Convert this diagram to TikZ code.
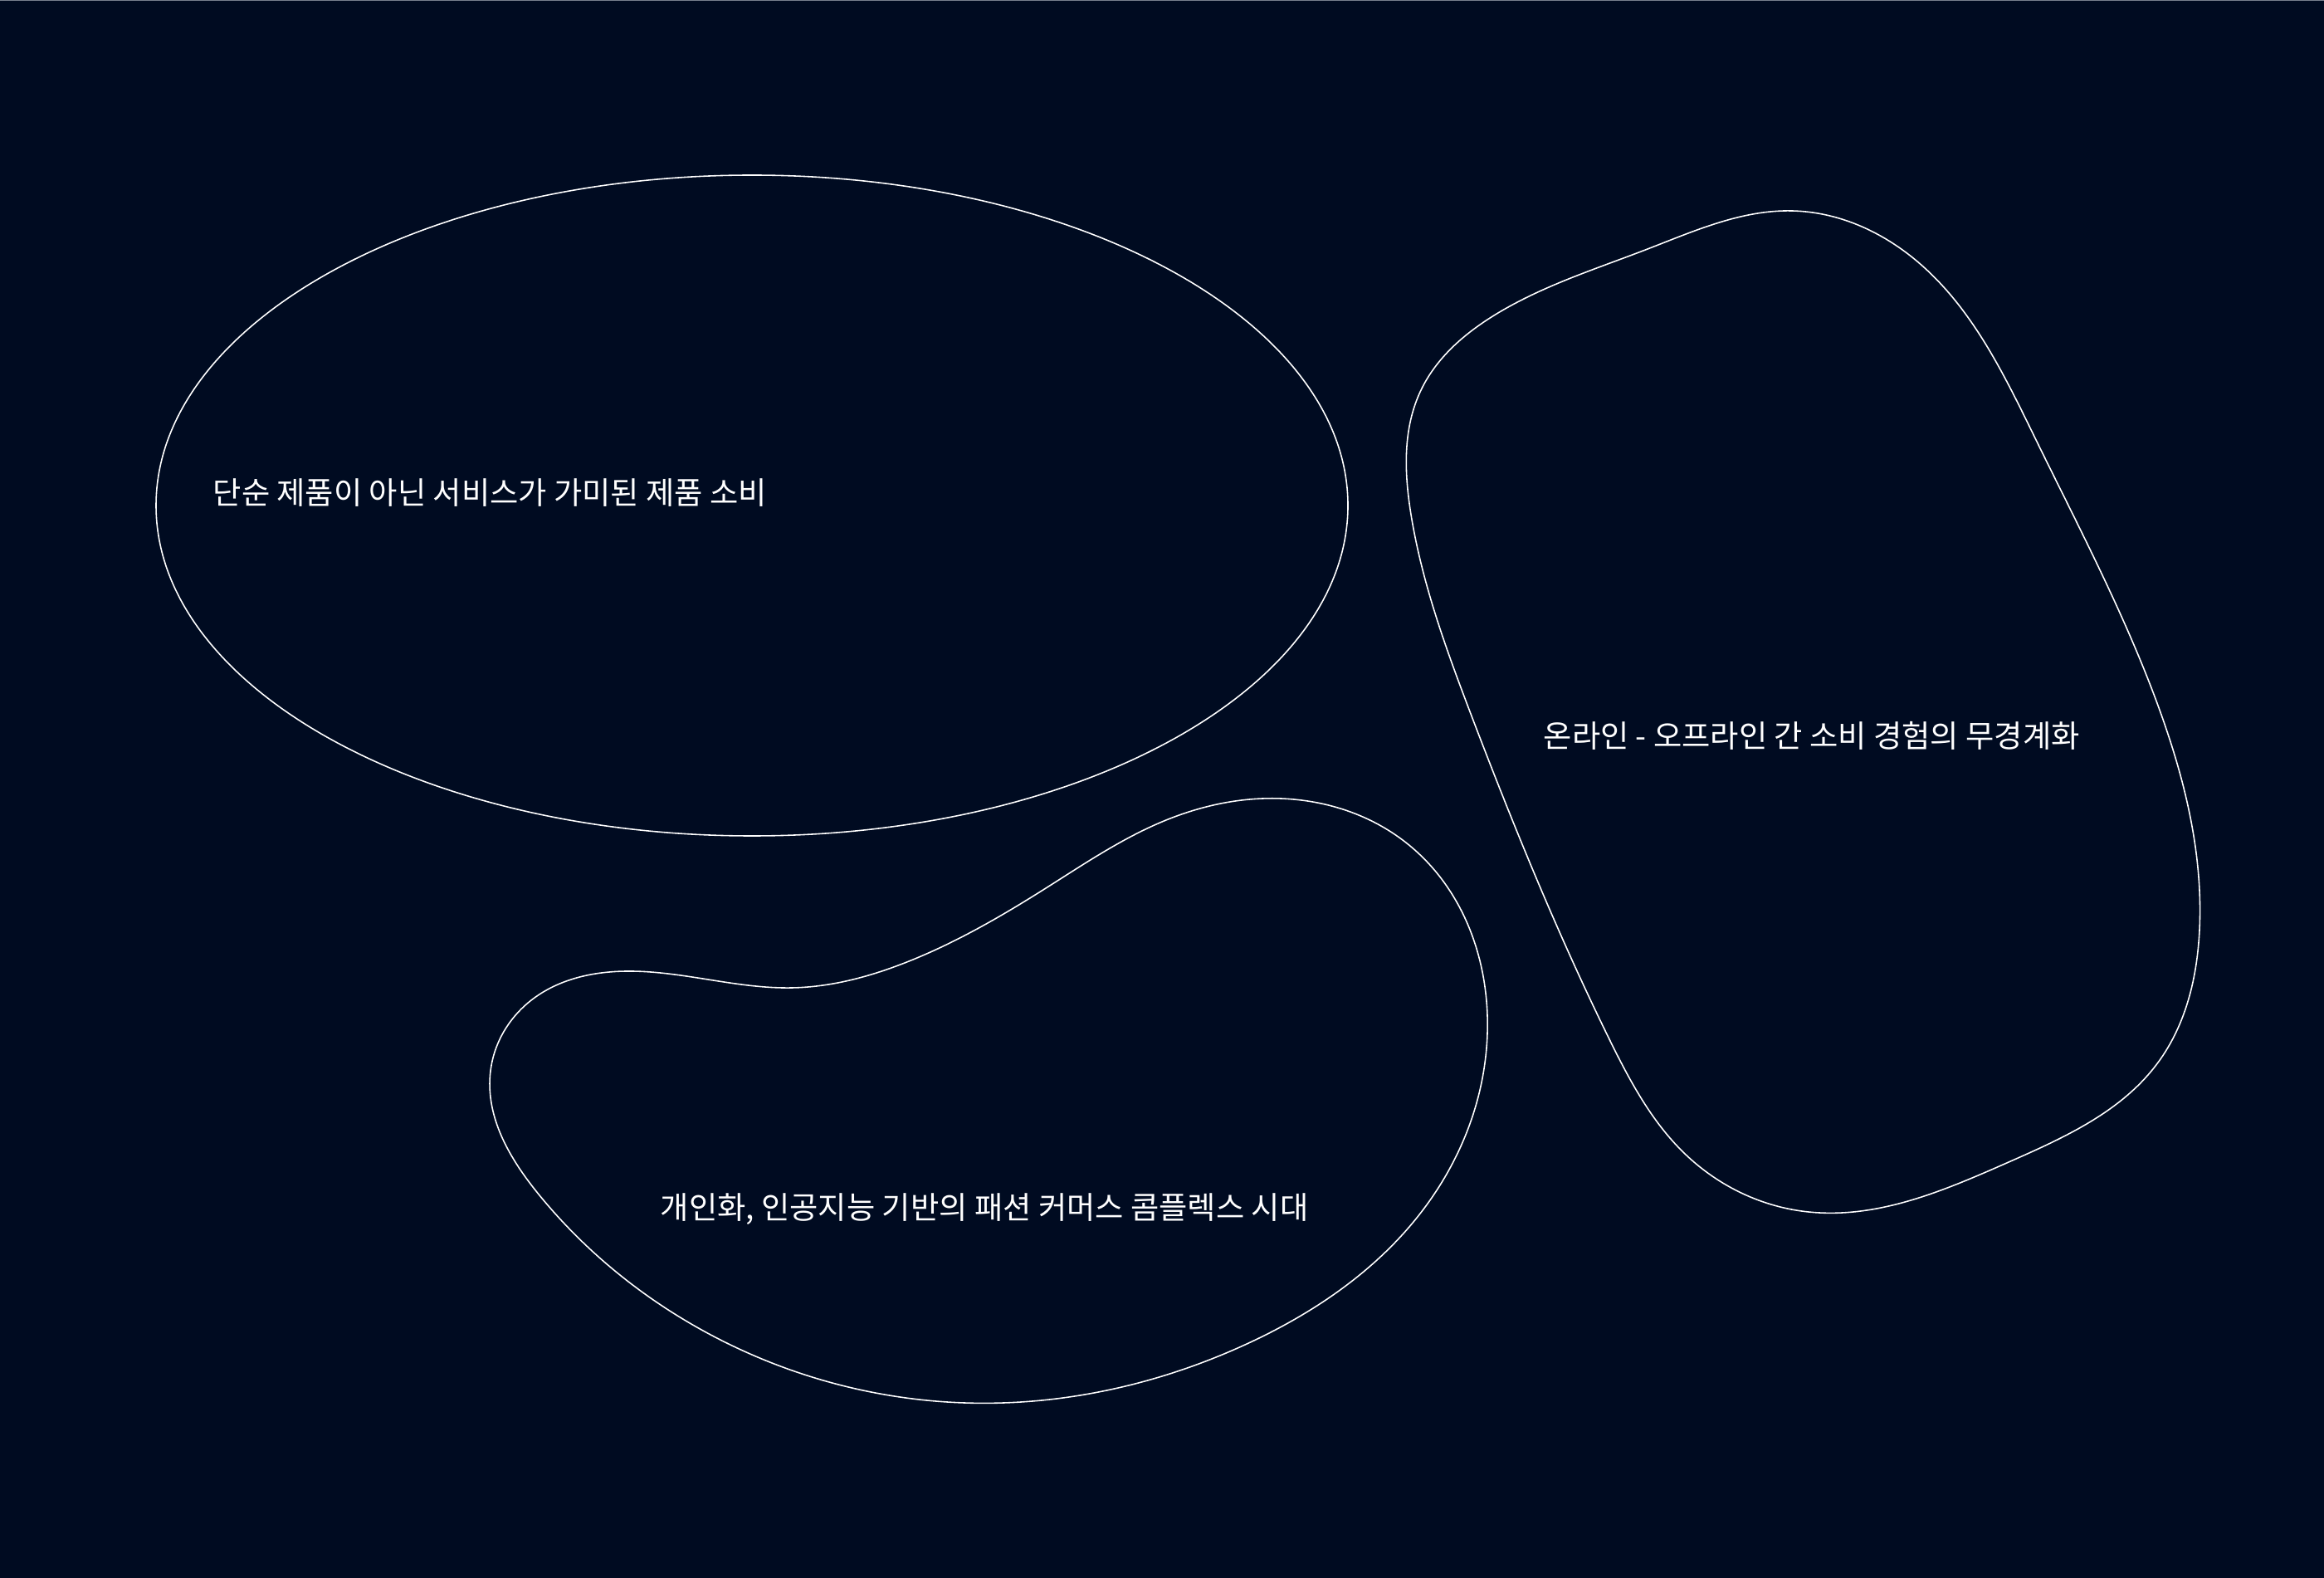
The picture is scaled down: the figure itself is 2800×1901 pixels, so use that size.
\documentclass[tikz,border=0pt]{standalone}
\usepackage{fontspec}
\usetikzlibrary{hobby}
\newfontfamily\krfont{Noto Sans CJK KR}
\definecolor{bgnavy}{RGB}{0,11,33}
\definecolor{rulegray}{RGB}{120,128,142}

\begin{document}
\begin{tikzpicture}[x=0.01cm,y=-0.01cm,
  blob/.style={draw=white,line width=0.45pt,use Hobby shortcut,closed=true},
  label/.style={text=white,anchor=west,inner sep=0pt,font=\krfont\fontsize{10.6pt}{12pt}\selectfont}]
  % Background and top rule
  \fill[bgnavy] (0,0) rectangle (2800,1901);
  \fill[rulegray] (0,0) rectangle (2800,1.5);
  \useasboundingbox (0,0) rectangle (2800,1901);

  % Draw the three blobs
  \draw[draw=white,line width=0.45pt] (906,609) ellipse [x radius=718, y radius=398];
  \draw[blob] (2159,254) .. (2310,315) .. (2454,532) .. (2600,850) .. (2650,1120)
    .. (2600,1280) .. (2420,1400) .. (2179,1460) .. (2030,1390) .. (1938,1250)
    .. (1772,860) .. (1700,620) .. (1712,470) .. (1800,380) .. (1985,300);
  \draw[blob] (1521,962) .. (1700,1020) .. (1792,1224) .. (1720,1450) .. (1500,1620)
    .. (1162,1690) .. (860,1610) .. (650,1440) .. (591,1290) .. (640,1205)
    .. (754,1170) .. (954,1190) .. (1090,1160) .. (1260,1070) .. (1400,990);

  % Labels
  \node[label] (service) at (256,594) {단순 제품이 아닌 서비스가 가미된 제품 소비};
  \node[label] (seamless) at (1859,886) {온라인 - 오프라인 간 소비 경험의 무경계화};
  \node[label] (complex) at (795,1457) {개인화, 인공지능 기반의 패션 커머스 콤플렉스 시대};
\end{tikzpicture}
\end{document}
